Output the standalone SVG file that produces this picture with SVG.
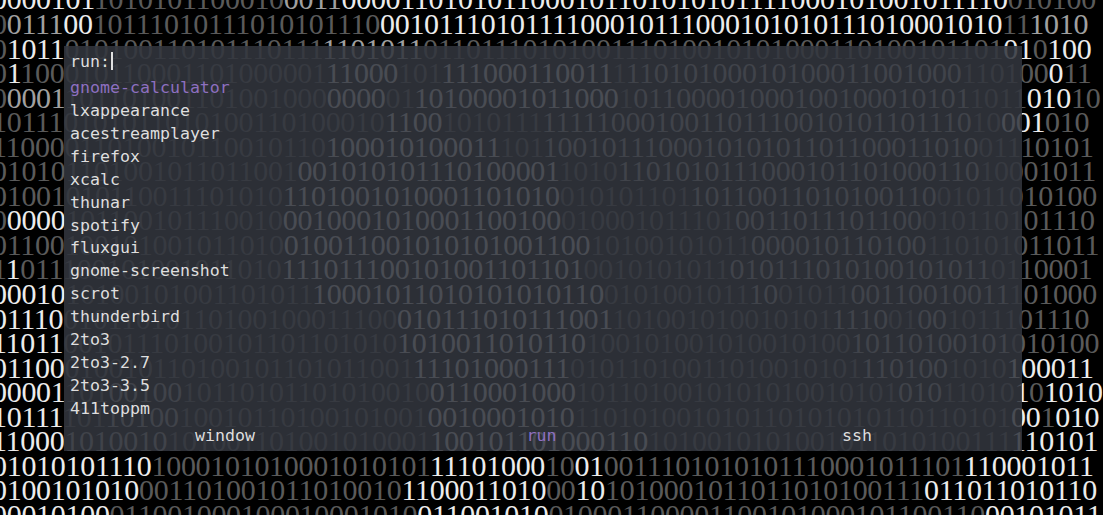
<svg xmlns="http://www.w3.org/2000/svg" width="1103" height="515" viewBox="0 0 1103 515">
<style>
.bg text{font-family:"Liberation Serif","Times New Roman",serif;font-size:30px;letter-spacing:-0.3px}
.b{fill:#ececec}.m{fill:#a0a0a0}.d{fill:#5a5a5a}
.t{font-family:"DejaVu Sans Mono",monospace;font-size:16.6px;fill:#dedede}
.sel{fill:#8e70c0}
</style>
<rect width="1103" height="515" fill="#000"/>
<g id="background" class="bg">
<text x="-8" y="9.4"><tspan class="b">0000101</tspan><tspan class="d">1010101100010</tspan><tspan class="m">0011</tspan><tspan class="b">0000110101011000101101010101111000101001011110</tspan><tspan class="d">010100</tspan></text>
<text x="-8" y="33.95"><tspan class="d">0</tspan><tspan class="m">0111</tspan><tspan class="b">00</tspan><tspan class="d">10111010111010101110</tspan><tspan class="b">0010111010111100010111000101010111010001010</tspan><tspan class="d">11</tspan><tspan class="m">1010</tspan></text>
<text x="-8" y="58.5"><tspan class="d">0</tspan><tspan class="b">1011</tspan><tspan class="d">010100110101110111</tspan><tspan class="m">1101011</tspan><tspan class="d">0110111010100111010010101000110100101101</tspan><tspan class="b">01</tspan><tspan class="d">0</tspan><tspan class="b">100</tspan></text>
<text x="-8" y="83.05"><tspan class="d">0</tspan><tspan class="b">1</tspan><tspan class="d">100010110001101000001</tspan><tspan class="b">11000</tspan><tspan class="d">101</tspan><tspan class="b">111000110011</tspan><tspan class="d">1</tspan><tspan class="m">11010100010100011001000</tspan><tspan class="d">110100</tspan><tspan class="b">0</tspan><tspan class="d">11</tspan></text>
<text x="-8" y="107.6"><tspan class="d">0</tspan><tspan class="m">0001</tspan><tspan class="d">101101001101001000</tspan><tspan class="b">0000</tspan><tspan class="d">01</tspan><tspan class="b">10100001011000</tspan><tspan class="d">1</tspan><tspan class="m">01100001000100100010101</tspan><tspan class="d">1011</tspan><tspan class="b">010</tspan><tspan class="d">10</tspan></text>
<text x="-8" y="132.15"><tspan class="d">101110101011010100110100010</tspan><tspan class="b">1100</tspan><tspan class="d">1010111</tspan><tspan class="m">111110001001101110010101101110</tspan><tspan class="d">10</tspan><tspan class="b">001</tspan><tspan class="d">010</tspan></text>
<text x="-8" y="156.7"><tspan class="d">11000011010010110010110</tspan><tspan class="b">100010100011</tspan><tspan class="d">101</tspan><tspan class="m">100101110001010101101100011010</tspan><tspan class="d">01110101</tspan></text>
<text x="-8" y="181.25"><tspan class="d">010101101001011011001</tspan><tspan class="b">001010101110100001</tspan><tspan class="d">1010</tspan><tspan class="m">1101010111000101101000110</tspan><tspan class="d">10001011</tspan></text>
<text x="-8" y="205.8"><tspan class="d">01001010110011101010</tspan><tspan class="b">1101001010001101010</tspan><tspan class="d">010101101</tspan><tspan class="m">10110011010100110</tspan><tspan class="d">01011010100</tspan></text>
<text x="-8" y="230.35"><tspan class="d">0</tspan><tspan class="b">0000</tspan><tspan class="d">101100101110010</tspan><tspan class="b">0010001010001100100</tspan><tspan class="d">010001011101</tspan><tspan class="m">0011011101100</tspan><tspan class="d">010110101110</tspan></text>
<text x="-8" y="254.9"><tspan class="d">01100100101001011010</tspan><tspan class="b">010011001010101001100</tspan><tspan class="d">10100101011</tspan><tspan class="m">000010110100</tspan><tspan class="d">110101011011</tspan></text>
<text x="-8" y="279.45"><tspan class="d">1</tspan><tspan class="b">1</tspan><tspan class="d">011100101001011010</tspan><tspan class="b">111011100101001101101</tspan><tspan class="d">0010101011</tspan><tspan class="m">010111010100101011</tspan><tspan class="d">0110001</tspan></text>
<text x="-8" y="304"><tspan class="b">00010</tspan><tspan class="d">10100101001101011</tspan><tspan class="b">10001011010101010110</tspan><tspan class="d">0101001011</tspan><tspan class="m">10</tspan><tspan class="d">01011</tspan><tspan class="m">00110010011</tspan><tspan class="d">101000</tspan></text>
<text x="-8" y="328.55"><tspan class="b">01110</tspan><tspan class="d">01011010110100100011100</tspan><tspan class="b">010111010111001</tspan><tspan class="d">101001010010101</tspan><tspan class="m">1110</tspan><tspan class="d">01</tspan><tspan class="m">00</tspan><tspan class="d">1011101110</tspan></text>
<text x="-8" y="353.1"><tspan class="b">11011</tspan><tspan class="d">00101110100101101101010</tspan><tspan class="b">1010011010110</tspan><tspan class="d">100101001010010100</tspan><tspan class="m">10110100101</tspan><tspan class="d">010100</tspan></text>
<text x="-8" y="377.65"><tspan class="b">01100</tspan><tspan class="d">010010110100101101011001</tspan><tspan class="b">11101000111</tspan><tspan class="d">01011010011010010101</tspan><tspan class="m">110100</tspan><tspan class="d">1010</tspan><tspan class="b">100011</tspan></text>
<text x="-8" y="402.2"><tspan class="b">00001</tspan><tspan class="d">101</tspan><tspan class="m">00100</tspan><tspan class="d">10110101101010010</tspan><tspan class="b">0110001000</tspan><tspan class="d">1011010010101010010101</tspan><tspan class="m">010</tspan><tspan class="d">11010</tspan><tspan class="b">1</tspan><tspan class="d">0</tspan><tspan class="b">1010</tspan></text>
<text x="-8" y="426.75"><tspan class="b">10111</tspan><tspan class="d">101</tspan><tspan class="m">10100</tspan><tspan class="d">10010110100101001</tspan><tspan class="b">0010001010</tspan><tspan class="d">110101001010110101010110110101</tspan><tspan class="b">00</tspan><tspan class="d">1</tspan><tspan class="b">010</tspan></text>
<text x="-8" y="451.3"><tspan class="b">11000</tspan><tspan class="m">1010010</tspan><tspan class="d">101001101001010001</tspan><tspan class="b">100101101000110</tspan><tspan class="d">1010010101001011010100111</tspan><tspan class="b">110101</tspan></text>
<text x="-8" y="475.85"><tspan class="b">01010101110</tspan><tspan class="d">1000101010001010101</tspan><tspan class="b">11101000</tspan><tspan class="d">10</tspan><tspan class="b">01</tspan><tspan class="d">0011101010101110001011101</tspan><tspan class="b">110001011</tspan></text>
<text x="-8" y="500.4"><tspan class="b">0100101010</tspan><tspan class="d">001101001011010010</tspan><tspan class="b">1100011010</tspan><tspan class="d">00</tspan><tspan class="b">10</tspan><tspan class="d">1010001011011010100111</tspan><tspan class="b">011011010110</tspan></text>
<text x="-8" y="524.95"><tspan class="b">00010100</tspan><tspan class="d">011001000100010001010</tspan><tspan class="b">011001010</tspan><tspan class="d">010001100001100101000101100110</tspan><tspan class="b">00101011</tspan></text>
</g>
<g id="launcher">
<rect id="panel" x="64" y="46" width="958" height="405" fill="#32353e" fill-opacity="0.88"/>
<g id="prompt">
<text class="t" x="70" y="66.5">run:</text>
<rect id="cursor" x="111" y="52" width="2" height="18" fill="#e0e0e0"/>
</g>
<g id="list">
<text class="t sel" x="70" y="93.3">gnome-calculator</text>
<text class="t" x="70" y="116.2">lxappearance</text>
<text class="t" x="70" y="139">acestreamplayer</text>
<text class="t" x="70" y="161.9">firefox</text>
<text class="t" x="70" y="184.8">xcalc</text>
<text class="t" x="70" y="207.6">thunar</text>
<text class="t" x="70" y="230.5">spotify</text>
<text class="t" x="70" y="253.4">fluxgui</text>
<text class="t" x="70" y="276.3">gnome-screenshot</text>
<text class="t" x="70" y="299.1">scrot</text>
<text class="t" x="70" y="322">thunderbird</text>
<text class="t" x="70" y="344.9">2to3</text>
<text class="t" x="70" y="367.8">2to3-2.7</text>
<text class="t" x="70" y="390.6">2to3-3.5</text>
<text class="t" x="70" y="413.5">411toppm</text>
</g>
<g id="modes">
<text class="t" x="225" y="441" text-anchor="middle">window</text>
<text class="t sel" x="541.5" y="441" text-anchor="middle">run</text>
<text class="t" x="857" y="441" text-anchor="middle">ssh</text>
</g>
</g>
</svg>
